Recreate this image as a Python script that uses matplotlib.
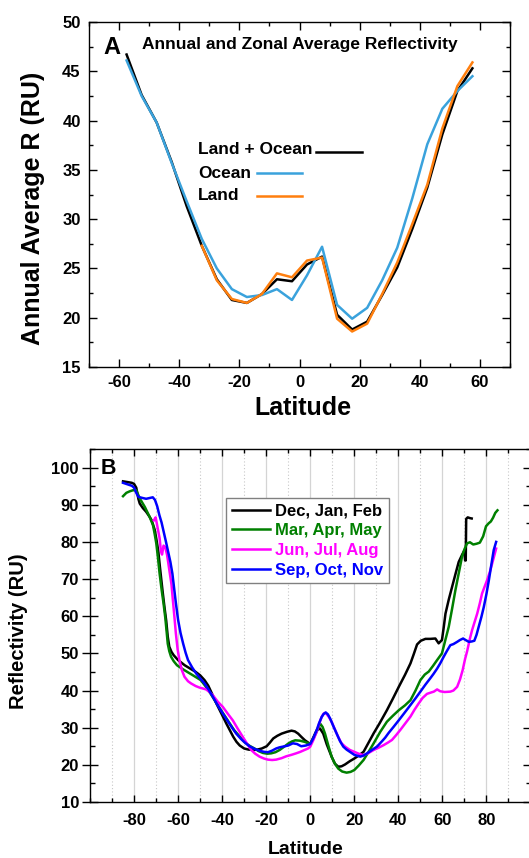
import matplotlib
matplotlib.use("Agg")
import matplotlib.pyplot as plt
from matplotlib.lines import Line2D
from matplotlib.ticker import MultipleLocator, FixedLocator

plt.rcParams['font.family'] = ['Liberation Sans', 'DejaVu Sans']
plt.rcParams['font.weight'] = 'bold'
plt.rcParams['axes.unicode_minus'] = False

# ---------------- Panel A: annual, zonal averages (5 degree bands) ----------------
lat_a = [-57.5, -52.5, -47.5, -42.5, -37.5, -32.5, -27.5, -22.5, -17.5, -12.5, -7.5, -2.5,
         2.5, 7.5, 12.5, 17.5, 22.5, 27.5, 32.5, 37.5, 42.5, 47.5, 52.5, 57.5]
land_ocean = [46.7, 42.6, 39.8, 35.8, 31.3, 27.3, 23.9, 21.8, 21.5, 22.4, 23.9, 23.7,
              25.4, 26.2, 20.3, 18.8, 19.6, 22.3, 25.1, 29.0, 33.2, 38.6, 43.0, 45.3]
ocean = [46.1, 42.5, 39.8, 35.7, 31.8, 28.0, 25.0, 22.9, 22.1, 22.3, 22.9, 21.8,
         24.3, 27.2, 21.3, 19.9, 21.0, 23.8, 27.1, 32.1, 37.6, 41.2, 43.0, 44.5]
lat_land = [-32.5, -27.5, -22.5, -17.5, -12.5, -7.5, -2.5, 2.5, 7.5, 12.5, 17.5, 22.5,
            27.5, 32.5, 37.5, 42.5, 47.5, 52.5, 57.5]
land = [27.3, 23.8, 21.9, 21.5, 22.4, 24.5, 24.1, 25.8, 26.1, 19.9, 18.6, 19.4,
        22.4, 25.6, 29.5, 33.5, 39.2, 43.5, 45.9]

# ---------------- Panel B: seasonal zonal reflectivity (latitude, RU) ----------------
djf = [(-85, 96.3), (-83, 96.1), (-81, 95.9), (-80, 95.6), (-79, 94.6), (-78, 91.5),
       (-77.4, 90.3), (-76, 89.1), (-74.5, 88.1), (-73, 86.8), (-72, 85.8), (-70.6, 83.2),
       (-69.8, 80.5), (-69, 77.5), (-68.3, 73.5), (-67.6, 69.7), (-67, 66.5), (-66.2, 62.5),
       (-65.4, 58.8), (-64.7, 54.5), (-64, 51.8), (-63, 50.4), (-62, 49.5), (-60, 48.2),
       (-57, 46.8), (-54.5, 45.9), (-52, 45.0), (-50, 44.1), (-48, 42.8), (-46.3, 41.3),
       (-44.5, 39.0), (-42.6, 36.5), (-40, 33.4), (-38, 31.0), (-36.5, 29.3), (-35, 27.6),
       (-33.5, 26.2), (-32, 25.2), (-30, 24.4), (-28, 24.1), (-25.8, 24.0), (-24, 24.1),
       (-22, 24.4), (-19.8, 25.0), (-18.3, 26.0), (-16.8, 27.1), (-15, 27.8), (-13, 28.4),
       (-10.5, 28.9), (-8.5, 29.2), (-7, 29.0), (-5.5, 28.4), (-4, 27.5), (-2.4, 26.6),
       (0, 25.6), (1.5, 27.5), (2.9, 29.3), (4.4, 29.8), (5.9, 28.4), (7.5, 25.5),
       (9.7, 22.2), (11.2, 20.3), (12.7, 19.5), (14.2, 19.6), (15.8, 20.1), (18, 21.0),
       (20, 21.7), (22, 22.5), (24.2, 23.5), (26.5, 26.0), (28.8, 28.5), (31.5, 31.2),
       (34.8, 34.7), (37.5, 37.8), (40.2, 41.0), (43, 44.2), (45.5, 47.3), (47, 49.8),
       (48.5, 52.4), (50.2, 53.4), (52.3, 53.9), (54.5, 53.9), (56.8, 54.0), (58.3, 52.7),
       (59.8, 53.6), (60.6, 57.0), (61.4, 60.7), (62.9, 64.5), (64.4, 67.9), (66, 71.5),
       (67.4, 74.6), (69, 76.6), (69.9, 77.6), (70.3, 75.0), (70.6, 75.0), (70.8, 86.2),
       (71.5, 86.6), (72.5, 86.4), (73.3, 86.3)]

mam = [(-85, 92.3), (-83.5, 93.2), (-82, 93.6), (-80.5, 93.9), (-79, 93.9), (-78.2, 92.8),
       (-77.4, 91.7), (-75.1, 89.4), (-72.9, 86.7), (-71.4, 84.5), (-70.6, 82.0),
       (-69.9, 79.6), (-69.1, 75.5), (-68.4, 71.5), (-67.5, 67.2), (-66.6, 63.4),
       (-65.8, 59.5), (-65.2, 55.8), (-64.7, 52.6), (-64, 50.6), (-63.2, 49.1), (-62, 47.9),
       (-60.5, 46.8), (-58, 45.8), (-55.8, 45.0), (-53, 44.0), (-49.7, 42.8), (-47.5, 41.1),
       (-45.3, 39.2), (-43, 37.0), (-40.5, 34.7), (-37.5, 32.0), (-34.5, 29.3), (-32, 27.6),
       (-30, 26.2), (-27.5, 25.1), (-25.3, 24.4), (-23.5, 23.7), (-21.5, 23.2), (-19.5, 23.0),
       (-17.7, 23.1), (-15.8, 23.4), (-13.9, 24.0), (-11.8, 24.9), (-9.8, 25.8), (-8.3, 26.3),
       (-6.8, 26.6), (-4.7, 26.5), (-2.6, 26.2), (0, 25.6), (1.5, 27.2), (2.9, 28.9),
       (4.5, 31.1), (5.6, 30.2), (6.7, 28.4), (8.2, 25.2), (9.7, 22.2), (11.2, 20.3),
       (12.7, 19.0), (14.5, 18.2), (16.5, 17.9), (18.3, 18.1), (20, 18.6), (22, 19.8),
       (24.2, 21.3), (26.5, 23.5), (28.8, 25.8), (31.8, 28.9), (34.8, 31.6), (37.5, 33.2),
       (40.2, 34.7), (43, 36.0), (45.5, 37.4), (47.8, 40.0), (50, 42.8), (52, 44.3),
       (53.8, 45.1), (55.7, 46.6), (57.6, 48.2), (59.8, 50.0), (61.3, 53.5), (62.9, 57.2),
       (64.4, 62.0), (65.9, 67.0), (67.4, 71.5), (68.9, 76.0), (70, 78.0), (71.2, 79.6),
       (72.5, 79.9), (74, 79.3), (75.5, 79.5), (77, 79.8), (78.5, 81.5), (79.8, 84.2),
       (81, 85.0), (82, 85.5), (83, 86.5), (84, 87.8), (85, 88.5)]

jja = [(-71, 85.8), (-70.2, 86.6), (-69.3, 83.8), (-68.4, 81.0), (-67.8, 77.5),
       (-67.3, 76.6), (-66.6, 79.0), (-65.8, 78.5), (-65, 76.5), (-64, 72.5), (-63, 68.5),
       (-62.4, 64.5), (-61.7, 60.0), (-61, 55.3), (-60.2, 51.0), (-59.4, 48.2), (-58.3, 45.5),
       (-57.1, 43.7), (-55.5, 42.5), (-54.1, 41.9), (-52, 41.2), (-50.3, 40.8), (-47.3, 40.3),
       (-45.5, 39.5), (-44.2, 38.7), (-42, 37.0), (-39.7, 35.6), (-37.5, 33.8), (-35.2, 32.0),
       (-33, 29.8), (-30.6, 27.5), (-28.7, 25.7), (-26.8, 24.0), (-25, 23.0), (-23, 22.2),
       (-21, 21.7), (-19.2, 21.4), (-17.3, 21.3), (-15.5, 21.4), (-13, 21.8), (-10.9, 22.3),
       (-8.5, 22.7), (-6.4, 23.1), (-4.5, 23.5), (-2.6, 24.0), (-1, 24.4), (0, 24.9),
       (1.5, 26.8), (2.9, 28.9), (4, 31.0), (5.2, 32.9), (6.1, 33.8), (7, 34.0), (8.3, 33.0),
       (9.7, 31.6), (11.2, 29.5), (12.7, 27.5), (14.2, 25.8), (15.8, 24.9), (18, 24.0),
       (20, 23.5), (22, 23.0), (24.2, 22.6), (26.5, 23.2), (28.8, 24.0), (31, 24.6),
       (33.3, 25.3), (35.3, 26.0), (37.1, 26.7), (39, 28.0), (40.9, 29.4), (43.2, 31.2),
       (45.5, 33.0), (47.3, 34.8), (49.2, 36.5), (51, 38.0), (53, 39.1), (55, 39.5),
       (56.1, 39.7), (57.6, 40.3), (59, 39.8), (61, 39.6), (63.6, 39.7), (65, 40.0),
       (66.7, 41.0), (68, 43.0), (69.2, 45.5), (70.3, 48.5), (71.2, 50.5), (72.5, 54.0),
       (73.5, 56.3), (74.7, 58.6), (75.8, 60.7), (77, 63.5), (78, 66.1), (79.2, 68.0),
       (80.3, 69.7), (81.5, 71.8), (82.6, 74.2), (83.5, 76.2), (84.4, 78.2)]

son = [(-85, 95.9), (-83, 95.5), (-81, 95.1), (-80, 94.6), (-79, 93.2), (-78, 92.1),
       (-76, 91.8), (-74.5, 91.6), (-73, 91.8), (-71.5, 92.0), (-70.5, 91.3), (-69.5, 89.6),
       (-68.5, 87.2), (-67.5, 85.2), (-66.5, 82.6), (-65.5, 80.0), (-64.5, 77.3),
       (-63.5, 74.6), (-62.6, 71.5), (-61.8, 67.5), (-61, 63.5), (-60, 59.0), (-58.9, 55.5),
       (-57.7, 52.6), (-56.6, 50.2), (-55.5, 48.2), (-53.6, 46.2), (-51.8, 44.6),
       (-50, 43.3), (-48, 41.9), (-46, 40.1), (-44.2, 38.3), (-42, 36.0), (-39.7, 33.8),
       (-37.5, 31.8), (-35.5, 30.0), (-33.6, 28.4), (-31.5, 27.0), (-29.5, 25.9),
       (-27.6, 25.0), (-25.3, 24.3), (-23, 23.8), (-21, 23.5), (-19.2, 23.4), (-17.4, 23.8),
       (-15.5, 24.4), (-14, 24.7), (-12.4, 24.9), (-10, 25.2), (-7.9, 25.8), (-6, 25.6),
       (-4.1, 25.0), (-2, 25.2), (0, 25.6), (1.5, 27.3), (2.9, 29.3), (4, 31.2),
       (5.2, 32.9), (6.1, 33.7), (7, 34.1), (8, 33.6), (9, 32.5), (10.5, 30.4), (12, 28.4),
       (13.5, 26.4), (15, 24.9), (16.5, 24.1), (18, 23.5), (20, 22.7), (22.7, 22.2),
       (24.2, 22.5), (25.8, 23.1), (28, 24.0), (30.3, 24.9), (32.5, 26.3), (34, 27.3),
       (35.6, 28.6), (37.8, 30.2), (40.2, 32.0), (42.8, 34.0), (45.5, 36.1), (47.8, 37.9),
       (50, 39.7), (52.3, 41.6), (54.5, 43.3), (56, 44.5), (57.6, 45.9), (59, 47.3),
       (60.6, 49.1), (62, 50.6), (63.6, 52.2), (65, 52.5), (66.7, 53.1), (68, 53.6),
       (69.4, 54.0), (70.5, 53.6), (72, 53.1), (73.3, 53.2), (74.5, 53.4), (75.5, 55.0),
       (76.5, 57.2), (77.7, 59.8), (78.8, 62.5), (80, 66.0), (81.1, 69.7), (82.2, 73.8),
       (83.3, 77.8), (84.4, 80.0)]

season_labels = ['Dec, Jan, Feb', 'Mar, Apr, May', 'Jun, Jul, Aug', 'Sep, Oct, Nov']
season_colors = ['#000000', '#008000', '#ff00ff', '#0000ff']

ocean_c = '#3aa2dc'
land_c = '#ff7f0e'

W, H = 529, 858
fig = plt.figure(figsize=(W / 100, H / 100), dpi=100)


def fx(x):
    return x / W


def fy(y):
    return 1 - y / H


# ---------------- Panel A ----------------
axA = fig.add_axes([fx(89), fy(367), (510 - 89) / W, (367 - 22) / H])
axA.plot(lat_a, land_ocean, color='black', lw=1.8, zorder=3)
axA.plot(lat_a, ocean, color=ocean_c, lw=1.8, zorder=3)
axA.plot(lat_land, land, color=land_c, lw=1.8, zorder=4)
axA.set_xlim(-70, 70)
axA.set_ylim(15, 50)
axA.xaxis.set_major_locator(FixedLocator([-60, -40, -20, 0, 20, 40, 60]))
axA.xaxis.set_minor_locator(MultipleLocator(10))
axA.yaxis.set_major_locator(MultipleLocator(5))
axA.yaxis.set_minor_locator(MultipleLocator(2.5))
axA.tick_params(which='both', direction='in', top=True, right=True, width=1.0)
axA.tick_params(which='major', length=5.5, labelsize=12, pad=6)
axA.tick_params(which='minor', length=3)
for s in axA.spines.values():
    s.set_linewidth(1.0)

fig.text(fx(103), fy(47), 'A', fontsize=17, va='center', ha='left')
fig.text(fx(142), fy(45), 'Annual and Zonal Average Reflectivity', fontsize=12.5,
         va='center', ha='left')

# hand-placed key with lines after the labels
fig.text(fx(198), fy(150), 'Land + Ocean', fontsize=12.5, va='center', ha='left')
fig.text(fx(198), fy(173), 'Ocean', fontsize=12.5, va='center', ha='left')
fig.text(fx(198), fy(195), 'Land', fontsize=12.5, va='center', ha='left')
fig.add_artist(Line2D([fx(316), fx(362)], [fy(151.5), fy(151.5)], color='black', lw=1.8))
fig.add_artist(Line2D([fx(257), fx(302)], [fy(173.3), fy(173.3)], color=ocean_c, lw=1.8))
fig.add_artist(Line2D([fx(257), fx(302)], [fy(195.7), fy(195.7)], color=land_c, lw=1.8))

fig.text(fx(33), fy(208), 'Annual Average R (RU)', rotation=90, fontsize=18,
         ha='center', va='center')
fig.text(fx(302.5), fy(408), 'Latitude', fontsize=18, ha='center', va='center')

# ---------------- Panel B ----------------
# the right spine sits just past the figure edge
axB = fig.add_axes([fx(90), fy(802), (530.5 - 90) / W, (802 - 449) / H])
for data, lab, col in zip([djf, mam, jja, son], season_labels, season_colors):
    xs = [p[0] for p in data]
    ys = [p[1] for p in data]
    axB.plot(xs, ys, color=col, lw=1.8, label=lab, zorder=3)
axB.set_xlim(-100, 100)
axB.set_ylim(10, 105)
axB.xaxis.set_major_locator(FixedLocator([-80, -60, -40, -20, 0, 20, 40, 60, 80]))
axB.xaxis.set_minor_locator(MultipleLocator(10))
axB.yaxis.set_major_locator(MultipleLocator(10))
axB.yaxis.set_minor_locator(MultipleLocator(5))
axB.grid(which='major', axis='x', color='#d4d4d4', lw=0.9, ls='-', zorder=0)
axB.grid(which='minor', axis='x', color='#c8c8c8', lw=0.8, ls=(0, (1, 2)), zorder=0)
axB.tick_params(which='both', top=True, right=True, width=1.0)
axB.tick_params(axis='x', which='both', direction='in')
axB.tick_params(axis='x', which='major', length=5, labelsize=12, pad=8)
axB.tick_params(axis='x', which='minor', length=3)
axB.tick_params(axis='y', which='major', direction='inout', length=12, labelsize=12, pad=2)
axB.tick_params(axis='y', which='minor', direction='in', length=3.5)
for s in axB.spines.values():
    s.set_linewidth(1.0)

leg = axB.legend(loc='upper left', bbox_to_anchor=(fx(226), fy(497.7)),
                 bbox_transform=fig.transFigure, frameon=True, fancybox=False,
                 edgecolor='#808080', framealpha=1, fontsize=12, labelcolor='linecolor',
                 handlelength=2.3, handletextpad=0.3, labelspacing=0.28,
                 borderpad=0.35, borderaxespad=0)
leg.get_frame().set_linewidth(1.0)

fig.text(fx(101), fy(469), 'B', fontsize=15.5, va='center', ha='left')
fig.text(fx(19), fy(631), 'Reflectivity (RU)', rotation=90, fontsize=14.5,
         ha='center', va='center')
fig.text(fx(306), fy(849), 'Latitude', fontsize=14, ha='center', va='center')

fig.savefig('out.png', dpi=100)
